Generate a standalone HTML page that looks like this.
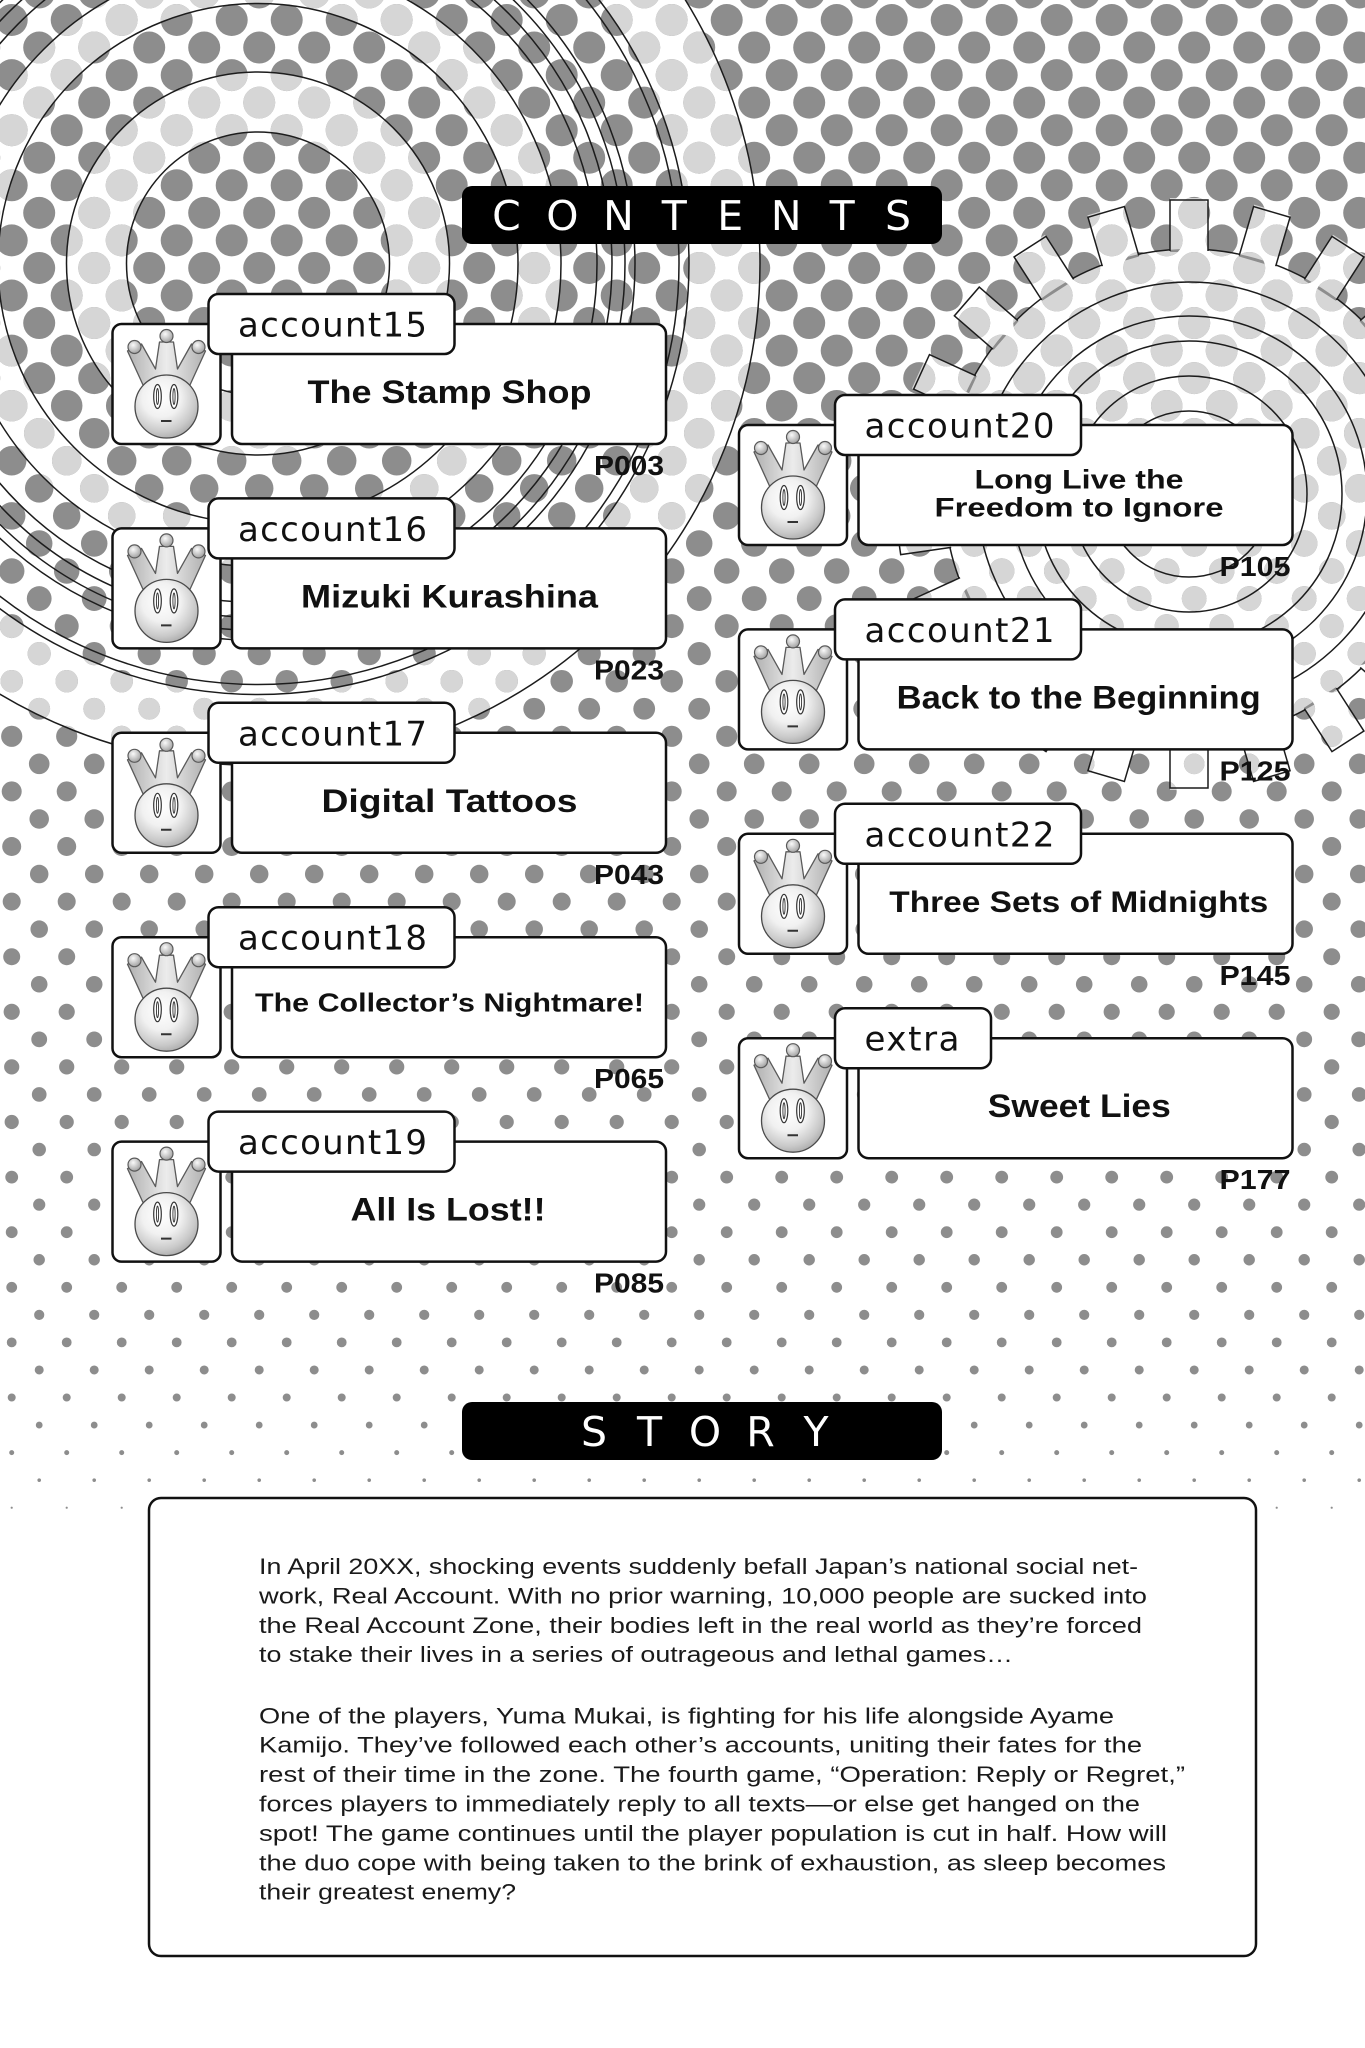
<!DOCTYPE html>
<html><head><meta charset="utf-8"><style>
html,body{margin:0;padding:0;background:#fff;width:1365px;height:2048px;overflow:hidden}
svg{display:block}
.t{font-family:"Liberation Sans",Arial,sans-serif;font-weight:bold;fill:#111}
.a{font-family:"DejaVu Sans","Liberation Sans",sans-serif;font-size:34px;fill:#111}
.p{font-family:"Liberation Sans",Arial,sans-serif;font-weight:bold;font-size:28px;fill:#111}
.h{font-family:"DejaVu Sans","Liberation Sans",sans-serif;font-size:41px;fill:#fff}
.s{font-family:"Liberation Sans",Arial,sans-serif;font-size:22px;fill:#1a1a1a}
</style></head><body>
<svg xmlns="http://www.w3.org/2000/svg" xmlns:xlink="http://www.w3.org/1999/xlink" width="1365" height="2048" viewBox="0 0 1365 2048">
<defs>
<radialGradient id="gf" cx="0.42" cy="0.36" r="0.68"><stop offset="0" stop-color="#ffffff"/><stop offset="0.45" stop-color="#f1f1f1"/><stop offset="0.8" stop-color="#c9c9c9"/><stop offset="1" stop-color="#a9a9a9"/></radialGradient>
<radialGradient id="gb" cx="0.4" cy="0.35" r="0.7"><stop offset="0" stop-color="#fafafa"/><stop offset="1" stop-color="#9c9c9c"/></radialGradient>
<linearGradient id="gc" x1="0" y1="0" x2="1" y2="0"><stop offset="0" stop-color="#b0b0b0"/><stop offset="0.5" stop-color="#ececec"/><stop offset="1" stop-color="#b0b0b0"/></linearGradient>
<symbol id="cr" viewBox="0 0 108 120">
<path d="M15,27 L29,20 L43,45 L47,18 L61,18 L65,45 L79,20 L93,27 L77,62 L31,62 Z" fill="url(#gc)" stroke="#5a5a5a" stroke-width="1.3" stroke-linejoin="round"/>
<circle cx="22" cy="23" r="6.5" fill="url(#gb)" stroke="#5a5a5a" stroke-width="1.2"/>
<circle cx="54" cy="12" r="6.5" fill="url(#gb)" stroke="#5a5a5a" stroke-width="1.2"/>
<circle cx="86" cy="23" r="6.5" fill="url(#gb)" stroke="#5a5a5a" stroke-width="1.2"/>
<circle cx="54" cy="82.5" r="31.5" fill="url(#gf)" stroke="#4a4a4a" stroke-width="1.3"/>
<ellipse cx="45" cy="72.5" rx="3.8" ry="12" fill="#fff" stroke="#333" stroke-width="1.2"/>
<ellipse cx="61.5" cy="72.5" rx="3.8" ry="12" fill="#fff" stroke="#333" stroke-width="1.2"/>
<ellipse cx="45" cy="72.5" rx="1.1" ry="8" fill="none" stroke="#333" stroke-width="0.9"/>
<ellipse cx="61.5" cy="72.5" rx="1.1" ry="8" fill="none" stroke="#333" stroke-width="0.9"/>
<path d="M48.5,97H59" stroke="#333" stroke-width="2"/>
</symbol>
<g id="rows" fill="none" stroke-linecap="round" stroke-dasharray="0.01 54.99">
<path stroke-width="32" d="M-15.8 -7.55h1430M11.7 20h1430M-15.8 47.55h1430M11.7 75.1h1430M-15.8 102.65h1430M11.7 130.2h1430M-15.8 157.75h1430M11.7 185.3h1430M-15.8 212.85h1430M11.7 240.4h1430M-15.8 267.95h1430M11.7 295.5h1430M-15.8 323.05h1430M11.7 350.6h1430M-15.8 378.15h1430"/>
<path stroke-width="31.5" d="M11.7 405.7h1430"/>
<path stroke-width="30.5" d="M-15.8 433.25h1430"/>
<path stroke-width="29.5" d="M11.7 460.8h1430"/>
<path stroke-width="28.5" d="M-15.8 488.35h1430"/>
<path stroke-width="27.5" d="M11.7 515.9h1430"/>
<path stroke-width="26.5" d="M-15.8 543.45h1430"/>
<path stroke-width="25.5" d="M11.7 571h1430"/>
<path stroke-width="24.8" d="M-15.8 598.55h1430"/>
<path stroke-width="24" d="M11.7 626.1h1430"/>
<path stroke-width="23.2" d="M-15.8 653.65h1430"/>
<path stroke-width="22.5" d="M11.7 681.2h1430"/>
<path stroke-width="21.8" d="M-15.8 708.75h1430"/>
<path stroke-width="21.2" d="M11.7 736.3h1430"/>
<path stroke-width="20.6" d="M-15.8 763.85h1430"/>
<path stroke-width="20" d="M11.7 791.4h1430"/>
<path stroke-width="19.5" d="M-15.8 818.95h1430"/>
<path stroke-width="19" d="M11.7 846.5h1430"/>
<path stroke-width="18.5" d="M-15.8 874.05h1430"/>
<path stroke-width="18" d="M11.7 901.6h1430"/>
<path stroke-width="17.5" d="M-15.8 929.15h1430"/>
<path stroke-width="17" d="M11.7 956.7h1430"/>
<path stroke-width="16.6" d="M-15.8 984.25h1430"/>
<path stroke-width="16.2" d="M11.7 1011.8h1430"/>
<path stroke-width="15.8" d="M-15.8 1039.35h1430"/>
<path stroke-width="15.2" d="M11.7 1066.9h1430"/>
<path stroke-width="14.7" d="M-15.8 1094.45h1430"/>
<path stroke-width="14.2" d="M11.7 1122h1430"/>
<path stroke-width="13.5" d="M-15.8 1149.55h1430"/>
<path stroke-width="12.8" d="M11.7 1177.1h1430"/>
<path stroke-width="12.2" d="M-15.8 1204.65h1430"/>
<path stroke-width="11.8" d="M11.7 1232.2h1430"/>
<path stroke-width="11.4" d="M-15.8 1259.75h1430"/>
<path stroke-width="10.8" d="M11.7 1287.3h1430"/>
<path stroke-width="10.2" d="M-15.8 1314.85h1430"/>
<path stroke-width="9.8" d="M11.7 1342.4h1430"/>
<path stroke-width="9" d="M-15.8 1369.95h1430"/>
<path stroke-width="8" d="M11.7 1397.5h1430"/>
<path stroke-width="6.8" d="M-15.8 1425.05h1430"/>
<path stroke-width="5" d="M11.7 1452.6h1430"/>
<path stroke-width="3.6" d="M-15.8 1480.15h1430"/>
<path stroke-width="2.2" d="M11.7 1507.7h1430"/>
</g>
<rect id="tr" x="1170" y="198" width="38" height="54"/>
<path id="tl" d="M1170,251V200H1208V251"/>
<clipPath id="cl">
<path clip-rule="evenodd" d="M-244,263.5a502,502 0 1,0 1004,0a502,502 0 1,0 -1004,0Z M-173,263.5a431,431 0 1,0 862,0a431,431 0 1,0 -862,0Z M-45,263.5a303,303 0 1,0 606,0a303,303 0 1,0 -606,0Z M-2,263.5a260,260 0 1,0 520,0a260,260 0 1,0 -520,0Z M66.5,263.5a191.5,191.5 0 1,0 383,0a191.5,191.5 0 1,0 -383,0Z M126.5,263.5a131.5,131.5 0 1,0 263,0a131.5,131.5 0 1,0 -263,0Z"/>
</clipPath>
<clipPath id="cg">
<path clip-rule="evenodd" d="M944,494a245,245 0 1,0 490,0a245,245 0 1,0 -490,0Z M977,494a212,212 0 1,0 424,0a212,212 0 1,0 -424,0Z M1036,494a153,153 0 1,0 306,0a153,153 0 1,0 -306,0Z M1071,494a118,118 0 1,0 236,0a118,118 0 1,0 -236,0Z"/>
<use xlink:href="#tr" transform="rotate(0 1189 494)"/>
<use xlink:href="#tr" transform="rotate(16.364 1189 494)"/>
<use xlink:href="#tr" transform="rotate(32.727 1189 494)"/>
<use xlink:href="#tr" transform="rotate(49.091 1189 494)"/>
<use xlink:href="#tr" transform="rotate(65.455 1189 494)"/>
<use xlink:href="#tr" transform="rotate(81.818 1189 494)"/>
<use xlink:href="#tr" transform="rotate(98.182 1189 494)"/>
<use xlink:href="#tr" transform="rotate(114.545 1189 494)"/>
<use xlink:href="#tr" transform="rotate(130.909 1189 494)"/>
<use xlink:href="#tr" transform="rotate(147.273 1189 494)"/>
<use xlink:href="#tr" transform="rotate(163.636 1189 494)"/>
<use xlink:href="#tr" transform="rotate(180 1189 494)"/>
<use xlink:href="#tr" transform="rotate(196.364 1189 494)"/>
<use xlink:href="#tr" transform="rotate(212.727 1189 494)"/>
<use xlink:href="#tr" transform="rotate(229.091 1189 494)"/>
<use xlink:href="#tr" transform="rotate(245.455 1189 494)"/>
<use xlink:href="#tr" transform="rotate(261.818 1189 494)"/>
<use xlink:href="#tr" transform="rotate(278.182 1189 494)"/>
<use xlink:href="#tr" transform="rotate(294.545 1189 494)"/>
<use xlink:href="#tr" transform="rotate(310.909 1189 494)"/>
<use xlink:href="#tr" transform="rotate(327.273 1189 494)"/>
<use xlink:href="#tr" transform="rotate(343.636 1189 494)"/>
</clipPath>
</defs>

<rect x="0" y="0" width="1365" height="2048" fill="#fff"/>
<use xlink:href="#rows" stroke="#8d8d8d"/>
<use xlink:href="#rows" stroke="#d6d6d6" clip-path="url(#cl)"/>
<use xlink:href="#rows" stroke="#d6d6d6" clip-path="url(#cg)"/>

<!-- left concentric rings -->
<g fill="none" stroke="#1c1c1c" stroke-width="1.5">
<circle cx="258" cy="263.5" r="131.5"/>
<circle cx="258" cy="263.5" r="191.5"/>
<circle cx="258" cy="263.5" r="260"/>
<circle cx="258" cy="263.5" r="303"/>
<circle cx="258" cy="263.5" r="339"/>
<circle cx="258" cy="263.5" r="354"/>
<circle cx="258" cy="263.5" r="367"/>
<circle cx="258" cy="263.5" r="377"/>
<circle cx="258" cy="263.5" r="421"/>
<circle cx="258" cy="263.5" r="431"/>
<circle cx="258" cy="263.5" r="502"/>
</g>

<!-- gear -->
<g fill="none" stroke="#1c1c1c" stroke-width="1.5">
<circle cx="1189" cy="494" r="245" stroke-dasharray="31.97 38" stroke-dashoffset="15.97"/>
<use xlink:href="#tl" transform="rotate(0 1189 494)"/>
<use xlink:href="#tl" transform="rotate(16.364 1189 494)"/>
<use xlink:href="#tl" transform="rotate(32.727 1189 494)"/>
<use xlink:href="#tl" transform="rotate(49.091 1189 494)"/>
<use xlink:href="#tl" transform="rotate(65.455 1189 494)"/>
<use xlink:href="#tl" transform="rotate(81.818 1189 494)"/>
<use xlink:href="#tl" transform="rotate(98.182 1189 494)"/>
<use xlink:href="#tl" transform="rotate(114.545 1189 494)"/>
<use xlink:href="#tl" transform="rotate(130.909 1189 494)"/>
<use xlink:href="#tl" transform="rotate(147.273 1189 494)"/>
<use xlink:href="#tl" transform="rotate(163.636 1189 494)"/>
<use xlink:href="#tl" transform="rotate(180 1189 494)"/>
<use xlink:href="#tl" transform="rotate(196.364 1189 494)"/>
<use xlink:href="#tl" transform="rotate(212.727 1189 494)"/>
<use xlink:href="#tl" transform="rotate(229.091 1189 494)"/>
<use xlink:href="#tl" transform="rotate(245.455 1189 494)"/>
<use xlink:href="#tl" transform="rotate(261.818 1189 494)"/>
<use xlink:href="#tl" transform="rotate(278.182 1189 494)"/>
<use xlink:href="#tl" transform="rotate(294.545 1189 494)"/>
<use xlink:href="#tl" transform="rotate(310.909 1189 494)"/>
<use xlink:href="#tl" transform="rotate(327.273 1189 494)"/>
<use xlink:href="#tl" transform="rotate(343.636 1189 494)"/>
<circle cx="1189" cy="494" r="212"/>
<circle cx="1189" cy="494" r="178"/>
<circle cx="1189" cy="494" r="153"/>
<circle cx="1189" cy="494" r="118"/>
<circle cx="1189" cy="494" r="83"/>
</g>

<!-- CONTENTS bar -->
<rect x="462" y="186" width="480" height="58" rx="10" fill="#000"/>
<text class="h" x="506.5 562.4 618.4 674.3 730.2 786.2 842.1 898" y="230" text-anchor="middle">CONTENTS</text>

<!-- entries -->
<g fill="#fff" stroke="#111" stroke-width="2.5">
<rect x="112.5" y="324" width="108" height="120" rx="9"/>
<rect x="232" y="324" width="434" height="120" rx="10"/>
<rect x="208.5" y="294" width="246" height="60" rx="10"/>
<rect x="112.5" y="528.4" width="108" height="120" rx="9"/>
<rect x="232" y="528.4" width="434" height="120" rx="10"/>
<rect x="208.5" y="498.4" width="246" height="60" rx="10"/>
<rect x="112.5" y="732.8" width="108" height="120" rx="9"/>
<rect x="232" y="732.8" width="434" height="120" rx="10"/>
<rect x="208.5" y="702.8" width="246" height="60" rx="10"/>
<rect x="112.5" y="937.2" width="108" height="120" rx="9"/>
<rect x="232" y="937.2" width="434" height="120" rx="10"/>
<rect x="208.5" y="907.2" width="246" height="60" rx="10"/>
<rect x="112.5" y="1141.6" width="108" height="120" rx="9"/>
<rect x="232" y="1141.6" width="434" height="120" rx="10"/>
<rect x="208.5" y="1111.6" width="246" height="60" rx="10"/>

<rect x="739" y="425" width="108" height="120" rx="9"/>
<rect x="858.5" y="425" width="434" height="120" rx="10"/>
<rect x="835" y="395" width="246" height="60" rx="10"/>
<rect x="739" y="629.4" width="108" height="120" rx="9"/>
<rect x="858.5" y="629.4" width="434" height="120" rx="10"/>
<rect x="835" y="599.4" width="246" height="60" rx="10"/>
<rect x="739" y="833.8" width="108" height="120" rx="9"/>
<rect x="858.5" y="833.8" width="434" height="120" rx="10"/>
<rect x="835" y="803.8" width="246" height="60" rx="10"/>
<rect x="739" y="1038.2" width="108" height="120" rx="9"/>
<rect x="858.5" y="1038.2" width="434" height="120" rx="10"/>
<rect x="835" y="1008.2" width="156" height="60" rx="10"/>
</g>

<use xlink:href="#cr" x="112.5" y="324" width="108" height="120"/>
<use xlink:href="#cr" x="112.5" y="528.4" width="108" height="120"/>
<use xlink:href="#cr" x="112.5" y="732.8" width="108" height="120"/>
<use xlink:href="#cr" x="112.5" y="937.2" width="108" height="120"/>
<use xlink:href="#cr" x="112.5" y="1141.6" width="108" height="120"/>
<use xlink:href="#cr" x="739" y="425" width="108" height="120"/>
<use xlink:href="#cr" x="739" y="629.4" width="108" height="120"/>
<use xlink:href="#cr" x="739" y="833.8" width="108" height="120"/>
<use xlink:href="#cr" x="739" y="1038.2" width="108" height="120"/>

<!-- tab labels -->
<text class="a" x="238" y="336.5" textLength="189">account15</text>
<text class="a" x="238" y="540.9" textLength="189">account16</text>
<text class="a" x="238" y="745.3" textLength="189">account17</text>
<text class="a" x="238" y="949.7" textLength="189">account18</text>
<text class="a" x="238" y="1154.1" textLength="189">account19</text>
<text class="a" x="864.5" y="437.5" textLength="190">account20</text>
<text class="a" x="864.5" y="641.9" textLength="190">account21</text>
<text class="a" x="864.5" y="846.3" textLength="190">account22</text>
<text class="a" x="864.5" y="1050.7" textLength="95">extra</text>

<!-- titles -->
<text class="t" x="449.5" y="403" font-size="32" text-anchor="middle" textLength="284" lengthAdjust="spacingAndGlyphs">The Stamp Shop</text>
<text class="t" x="449.5" y="607.4" font-size="32" text-anchor="middle" textLength="297" lengthAdjust="spacingAndGlyphs">Mizuki Kurashina</text>
<text class="t" x="449.5" y="811.8" font-size="32" text-anchor="middle" textLength="256" lengthAdjust="spacingAndGlyphs">Digital Tattoos</text>
<text class="t" x="449.5" y="1011.7" font-size="26" text-anchor="middle" textLength="389" lengthAdjust="spacingAndGlyphs">The Collector’s Nightmare!</text>
<text class="t" x="448" y="1220.6" font-size="32" text-anchor="middle" textLength="195" lengthAdjust="spacingAndGlyphs">All Is Lost!!</text>
<text class="t" x="1079" y="488.5" font-size="27" text-anchor="middle" textLength="209" lengthAdjust="spacingAndGlyphs">Long Live the</text>
<text class="t" x="1079" y="516.5" font-size="27" text-anchor="middle" textLength="289" lengthAdjust="spacingAndGlyphs">Freedom to Ignore</text>
<text class="t" x="1078.7" y="708.4" font-size="32" text-anchor="middle" textLength="364" lengthAdjust="spacingAndGlyphs">Back to the Beginning</text>
<text class="t" x="1078.8" y="912" font-size="30" text-anchor="middle" textLength="379" lengthAdjust="spacingAndGlyphs">Three Sets of Midnights</text>
<text class="t" x="1079.3" y="1117.2" font-size="32" text-anchor="middle" textLength="183" lengthAdjust="spacingAndGlyphs">Sweet Lies</text>

<!-- page numbers -->
<text class="p" x="594" y="475" textLength="70" lengthAdjust="spacingAndGlyphs">P003</text>
<text class="p" x="594" y="679.4" textLength="70" lengthAdjust="spacingAndGlyphs">P023</text>
<text class="p" x="594" y="883.8" textLength="70" lengthAdjust="spacingAndGlyphs">P043</text>
<text class="p" x="594" y="1088.2" textLength="70" lengthAdjust="spacingAndGlyphs">P065</text>
<text class="p" x="594" y="1292.6" textLength="70" lengthAdjust="spacingAndGlyphs">P085</text>
<text class="p" x="1219.5" y="576" textLength="71" lengthAdjust="spacingAndGlyphs">P105</text>
<text class="p" x="1219.5" y="780.4" textLength="71" lengthAdjust="spacingAndGlyphs">P125</text>
<text class="p" x="1219.5" y="984.8" textLength="71" lengthAdjust="spacingAndGlyphs">P145</text>
<text class="p" x="1219.5" y="1189.2" textLength="71" lengthAdjust="spacingAndGlyphs">P177</text>

<!-- STORY bar -->
<rect x="462" y="1402" width="480" height="58" rx="10" fill="#000"/>
<text class="h" x="594 649.5 705 760.5 816" y="1446" text-anchor="middle">STORY</text>

<!-- story box -->
<rect x="149" y="1498" width="1107" height="458" rx="12" fill="#fff" stroke="#111" stroke-width="2.5"/>
<text class="s" x="259" y="1574" textLength="879" lengthAdjust="spacingAndGlyphs">In April 20XX, shocking events suddenly befall Japan’s national social net-</text>
<text class="s" x="259" y="1603.4" textLength="888" lengthAdjust="spacingAndGlyphs">work, Real Account. With no prior warning, 10,000 people are sucked into</text>
<text class="s" x="259" y="1632.8" textLength="883" lengthAdjust="spacingAndGlyphs">the Real Account Zone, their bodies left in the real world as they’re forced</text>
<text class="s" x="259" y="1662.2" textLength="754" lengthAdjust="spacingAndGlyphs">to stake their lives in a series of outrageous and lethal games…</text>
<text class="s" x="259" y="1723.3" textLength="855" lengthAdjust="spacingAndGlyphs">One of the players, Yuma Mukai, is fighting for his life alongside Ayame</text>
<text class="s" x="259" y="1752.7" textLength="883" lengthAdjust="spacingAndGlyphs">Kamijo. They’ve followed each other’s accounts, uniting their fates for the</text>
<text class="s" x="259" y="1782.1" textLength="926" lengthAdjust="spacingAndGlyphs">rest of their time in the zone. The fourth game, “Operation: Reply or Regret,”</text>
<text class="s" x="259" y="1811.5" textLength="881" lengthAdjust="spacingAndGlyphs">forces players to immediately reply to all texts—or else get hanged on the</text>
<text class="s" x="259" y="1840.9" textLength="908" lengthAdjust="spacingAndGlyphs">spot! The game continues until the player population is cut in half. How will</text>
<text class="s" x="259" y="1870.3" textLength="907" lengthAdjust="spacingAndGlyphs">the duo cope with being taken to the brink of exhaustion, as sleep becomes</text>
<text class="s" x="259" y="1899.7" textLength="257" lengthAdjust="spacingAndGlyphs">their greatest enemy?</text>
</svg>
</body></html>
